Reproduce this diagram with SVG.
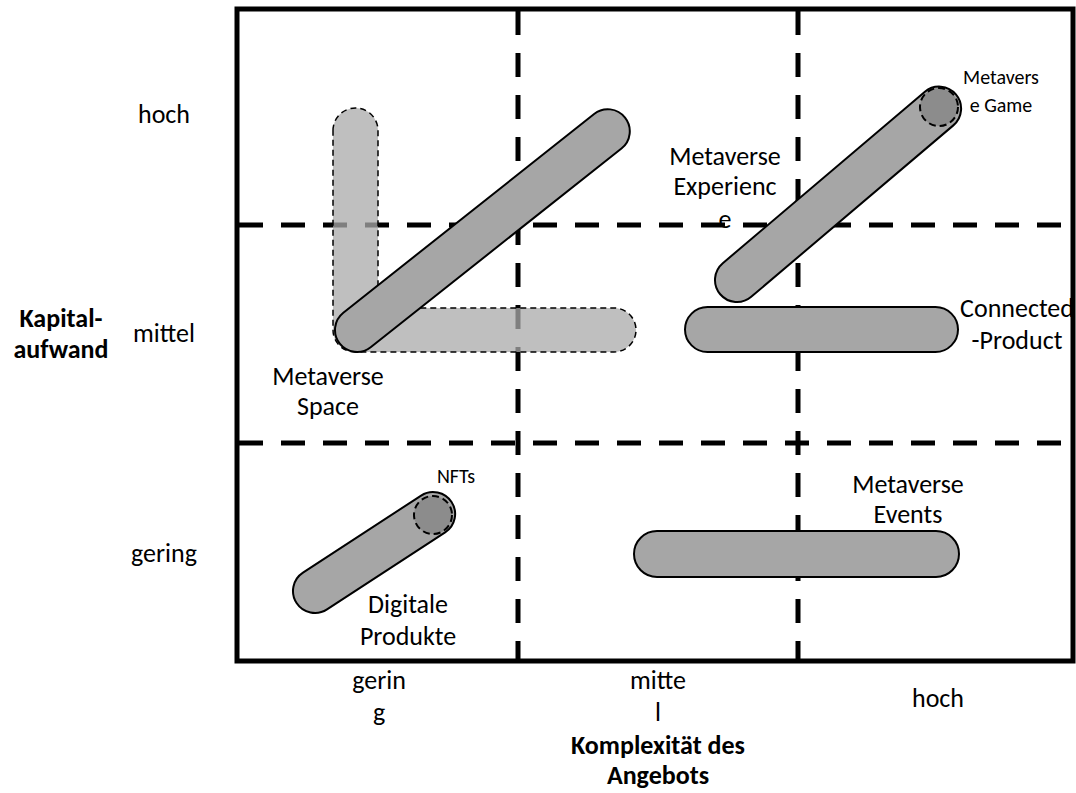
<svg xmlns="http://www.w3.org/2000/svg" width="1076" height="793" viewBox="0 0 1076 793">
  <style>
    .t { font-family: Carlito, Lato, "Liberation Sans", sans-serif; font-size: 26px; fill: #000; text-anchor: middle; }
    .s { font-size: 20px; }
    .b { font-weight: bold; }
    .grid { stroke: #000; stroke-width: 5; stroke-dasharray: 24 18; fill: none; }
    .cap { fill: #a6a6a6; stroke: #000; stroke-width: 2; }
    .ghost { fill: #aaaaaa; fill-opacity: 0.75; stroke: #000; stroke-width: 1.5; stroke-dasharray: 6 4; }
    .dot { fill: #8c8c8c; stroke: #000; stroke-width: 2; stroke-dasharray: 7 4; }
  </style>
  <rect width="1076" height="793" fill="#fff"/>
  <g id="frame">
    <rect x="237" y="9" width="836" height="652" fill="none" stroke="#000" stroke-width="5"/>
  </g>
  <g id="connectors">
    <line class="grid" x1="518" y1="11" x2="518" y2="659"/>
    <line class="grid" x1="798" y1="11" x2="798" y2="659"/>
    <line class="grid" x1="239" y1="225" x2="1062" y2="225"/>
    <line class="grid" x1="239" y1="443" x2="1062" y2="443"/>
  </g>
  <g id="metaverse-space-range">
    <path class="ghost" d="M333,130.5 A22.5,22.5 0 0 1 378,130.5 L378,308 L614,308 A22,22 0 0 1 614,352 L355,352 A22,22 0 0 1 333,330 Z"/>
  </g>
  <g id="metaverse-space">
    <rect class="cap" transform="translate(357,330) rotate(-38.4)" x="-22" y="-22" width="364" height="44" rx="22"/>
    <text class="t" x="328" y="385">Metaverse</text>
    <text class="t" x="328" y="415">Space</text>
  </g>
  <g id="metaverse-experience">
    <rect class="cap" transform="translate(737,280) rotate(-40.3)" x="-22" y="-22" width="309" height="44" rx="22"/>
    <text class="t" x="725" y="165">Metaverse</text>
    <text class="t" x="725" y="195">Experienc</text>
    <text class="t" x="725" y="228">e</text>
  </g>
  <g id="metaverse-game">
    <circle class="dot" cx="939" cy="107" r="19"/>
    <text class="t s" x="1001" y="84">Metavers</text>
    <text class="t s" x="1001" y="112">e Game</text>
  </g>
  <g id="connected-product">
    <rect class="cap" x="685" y="307" width="273" height="45" rx="22.5"/>
    <text class="t" x="1017" y="317">Connected</text>
    <text class="t" x="1017" y="349">-Product</text>
  </g>
  <g id="metaverse-events">
    <rect class="cap" x="634" y="531" width="325" height="46" rx="23"/>
    <text class="t" x="908" y="493">Metaverse</text>
    <text class="t" x="908" y="523">Events</text>
  </g>
  <g id="digitale-produkte">
    <rect class="cap" transform="translate(315,591) rotate(-33.1)" x="-22" y="-22" width="185" height="44" rx="22"/>
    <text class="t" x="408" y="613">Digitale</text>
    <text class="t" x="408" y="645">Produkte</text>
  </g>
  <g id="nfts">
    <circle class="dot" cx="433" cy="515" r="19"/>
    <text class="t s" x="456" y="483">NFTs</text>
  </g>
  <g id="y-axis">
    <text class="t b" x="61" y="327">Kapital-</text>
    <text class="t b" x="61" y="358">aufwand</text>
    <text class="t" x="164" y="123">hoch</text>
    <text class="t" x="164" y="342">mittel</text>
    <text class="t" x="164" y="562">gering</text>
  </g>
  <g id="x-axis">
    <text class="t" x="379" y="689">gerin</text>
    <text class="t" x="379" y="721">g</text>
    <text class="t" x="658" y="689">mitte</text>
    <text class="t" x="658" y="721">l</text>
    <text class="t" x="938" y="707">hoch</text>
    <text class="t b" x="658" y="754">Komplexität des</text>
    <text class="t b" x="658" y="784">Angebots</text>
  </g>
</svg>
